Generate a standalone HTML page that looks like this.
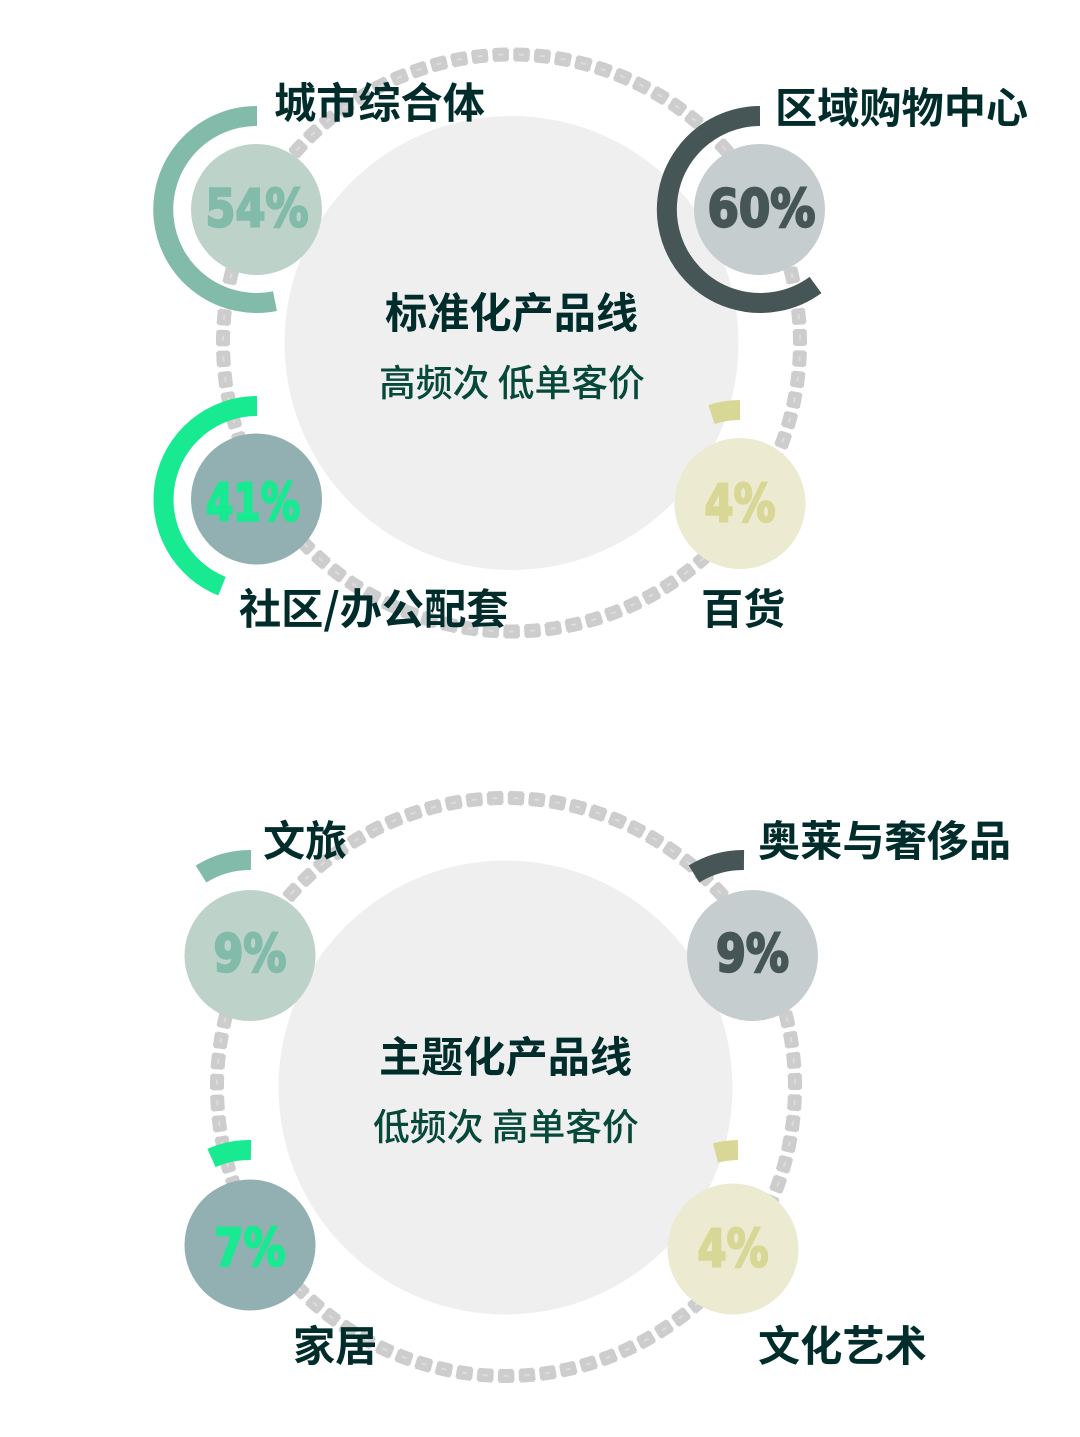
<!DOCTYPE html>
<html><head><meta charset="utf-8"><style>
html,body{margin:0;padding:0;background:#fff}
svg{display:block}
.t{font-family:"Noto Sans CJK SC","Liberation Sans",sans-serif;font-weight:700;font-size:42.2px;fill:#002c2c}
.s{font-family:"Noto Sans CJK SC","Liberation Sans",sans-serif;font-weight:500;font-size:36.8px;fill:#06483a}
.p{font-family:"DejaVu Sans",sans-serif;font-weight:700;font-size:52px;text-anchor:middle;stroke-width:2.4px;stroke-linejoin:miter}
.a{fill:none;stroke-width:20}
</style></head><body>
<svg width="1080" height="1437" viewBox="0 0 1080 1437" xmlns="http://www.w3.org/2000/svg">
<g fill="none">
<circle cx="511.5" cy="343" r="288.5" pathLength="870" stroke="#cdcdcd" stroke-width="14" stroke-dasharray="6.7 3.3" stroke-dashoffset="-4.15"/>
<circle cx="511.5" cy="343" r="288.5" pathLength="870" stroke="#cdcdcd" stroke-width="11" stroke-dasharray="7.9 2.1" stroke-dashoffset="-3.55"/>
<circle cx="511.5" cy="343" r="288.5" pathLength="870" stroke="#dcdcdc" stroke-width="2" stroke-dasharray="2.4 7.6" stroke-dashoffset="-6.3"/>
<circle cx="506" cy="1087" r="289" pathLength="870" stroke="#cdcdcd" stroke-width="14" stroke-dasharray="6.7 3.3" stroke-dashoffset="-4.15"/>
<circle cx="506" cy="1087" r="289" pathLength="870" stroke="#cdcdcd" stroke-width="11" stroke-dasharray="7.9 2.1" stroke-dashoffset="-3.55"/>
<circle cx="506" cy="1087" r="289" pathLength="870" stroke="#dcdcdc" stroke-width="2" stroke-dasharray="2.4 7.6" stroke-dashoffset="-6.3"/>
</g>
<circle cx="511.5" cy="343" r="227" fill="#efefef"/>
<circle cx="505.5" cy="1087.5" r="227" fill="#efefef"/>

<circle cx="256.5" cy="209.5" r="65.5" fill="#bdd2c9"/>
<circle cx="759.5" cy="209.5" r="65.5" fill="#c5cdcf"/>
<circle cx="256.5" cy="499" r="65.5" fill="#92afb2"/>
<circle cx="740" cy="503.5" r="65.5" fill="#ecebd2"/>
<circle cx="250" cy="955.5" r="65.5" fill="#bdd2c9"/>
<circle cx="752.5" cy="955.5" r="65.5" fill="#c5cdcf"/>
<circle cx="250" cy="1245" r="65.5" fill="#92afb2"/>
<circle cx="733" cy="1249" r="65.5" fill="#ecebd2"/>

<path class="a" stroke="#82bbaa" d="M257 116 A93.5 93.5 0 1 0 275 301.2"/>
<path class="a" stroke="#465555" d="M760 116 A93.5 93.5 0 1 0 815.5 285"/>
<path class="a" stroke="#17ea91" d="M257 406 A93.5 93.5 0 0 0 222 586.2"/>
<path class="a" stroke="#d8d795" d="M740 410 A93.5 93.5 0 0 0 711.5 414.5"/>
<path class="a" stroke="#82bbaa" d="M251 860 A93 93 0 0 0 201 874"/>
<path class="a" stroke="#465555" d="M744 860 A93 93 0 0 0 694 874"/>
<path class="a" stroke="#17ea91" d="M251 1150 A93 93 0 0 0 211.5 1158"/>
<path class="a" stroke="#d8d795" d="M738 1150 A93 93 0 0 0 715.5 1153"/>

<text class="p" x="257" y="226.5" fill="#82bbaa" stroke="#82bbaa" textLength="103" lengthAdjust="spacingAndGlyphs">54%</text>
<text class="p" x="761.5" y="226.5" fill="#465555" stroke="#465555" textLength="108" lengthAdjust="spacingAndGlyphs">60%</text>
<text class="p" x="253" y="520.5" fill="#17ea91" stroke="#17ea91" textLength="94" lengthAdjust="spacingAndGlyphs">41%</text>
<text class="p" x="740" y="521.5" fill="#d8d795" stroke="#d8d795" textLength="71" lengthAdjust="spacingAndGlyphs">4%</text>
<text class="p" x="250" y="971.5" fill="#82bbaa" stroke="#82bbaa" textLength="73" lengthAdjust="spacingAndGlyphs">9%</text>
<text class="p" x="752.5" y="971.5" fill="#465555" stroke="#465555" textLength="73" lengthAdjust="spacingAndGlyphs">9%</text>
<text class="p" x="250" y="1265.5" fill="#17ea91" stroke="#17ea91" textLength="71" lengthAdjust="spacingAndGlyphs">7%</text>
<text class="p" x="733" y="1266.5" fill="#d8d795" stroke="#d8d795" textLength="71" lengthAdjust="spacingAndGlyphs">4%</text>

<text class="t" x="274" y="118">城市综合体</text>
<text class="t" x="775" y="123">区域购物中心</text>
<text class="t" x="385" y="328">标准化产品线</text>
<text class="s" x="379" y="396">高频次 低单客价</text>
<text class="t" x="239" y="624">社区/办公配套</text>
<text class="t" x="701" y="624">百货</text>
<text class="t" x="263" y="856">文旅</text>
<text class="t" x="758" y="856">奥莱与奢侈品</text>
<text class="t" x="379" y="1072">主题化产品线</text>
<text class="s" x="373" y="1140">低频次 高单客价</text>
<text class="t" x="293" y="1361">家居</text>
<text class="t" x="758" y="1361">文化艺术</text>
</svg>
</body></html>
